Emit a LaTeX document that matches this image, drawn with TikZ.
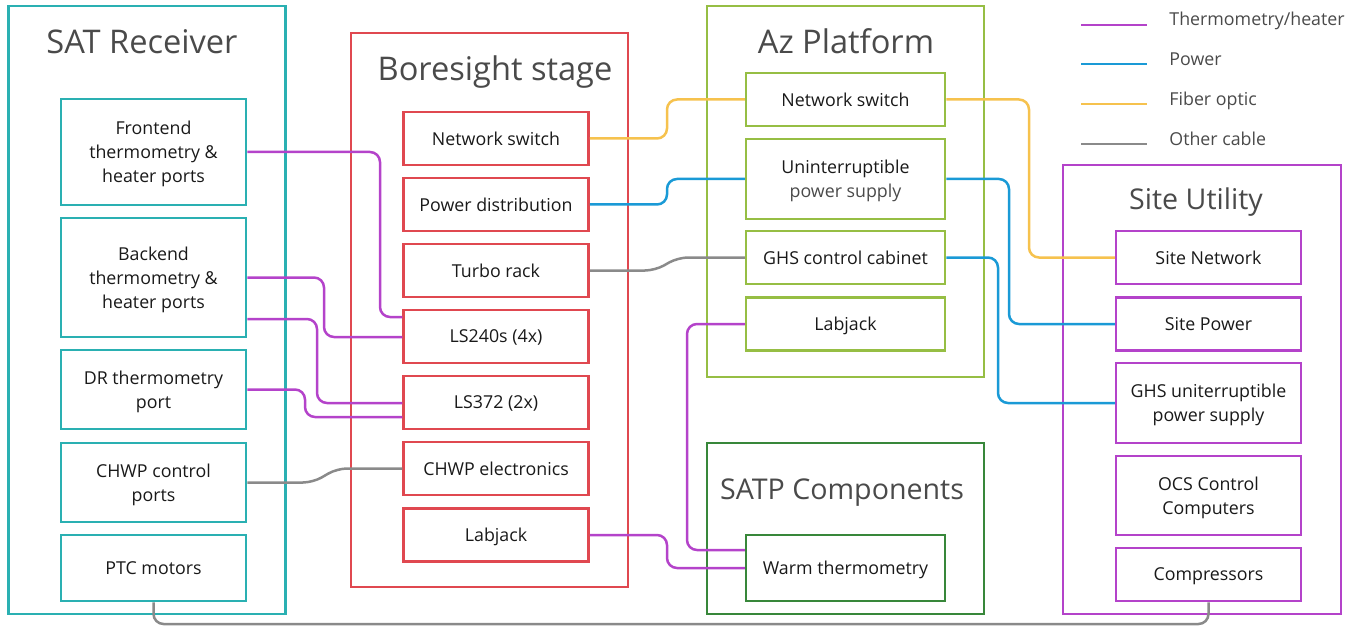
\documentclass[tikz,border=0pt]{standalone}
\usepackage{fontspec}
\setmainfont{Open Sans}
\definecolor{recv}{HTML}{2AB0B2}
\definecolor{bore}{HTML}{E04850}
\definecolor{azgreen}{HTML}{96BE44}
\definecolor{satpgreen}{HTML}{38873A}
\definecolor{siteviolet}{HTML}{B443CA}
\definecolor{ctherm}{HTML}{B443CA}
\definecolor{cpower}{HTML}{1A9AD6}
\definecolor{cfiber}{HTML}{F6C24E}
\definecolor{cother}{HTML}{8A8A8A}
\definecolor{titlegray}{HTML}{4A4A4A}
\begin{document}
\begin{tikzpicture}[x=0.5pt, y=-0.5pt,
  every node/.style={font=\fontsize{8.9}{12}\selectfont, text=black!90, align=center},
  grp/.style={draw, line width=1.25pt, minimum width=138.5pt},
  part/.style={draw, line width=1.25pt, minimum width=92.5pt, minimum height=26.5pt, inner sep=2pt, text depth=0pt},
  ttl/.style={font=\fontsize{16.3}{19}\selectfont, text=titlegray, anchor=base},
  subttl/.style={ttl, font=\fontsize{14.3}{17}\selectfont},
  cable/.style={line width=1.25pt, rounded corners=5pt},
  therm/.style={cable, draw=ctherm},
  power/.style={cable, draw=cpower},
  fiber/.style={cable, draw=cfiber},
  other/.style={cable, draw=cother},
  legtext/.style={anchor=base west, inner sep=0pt, text=titlegray}]
  \useasboundingbox (0,0) rectangle (1361,626);

  % SAT receiver
  \node[grp, draw=recv, minimum height=304pt] (sat) at (147,310) {};
  \node[ttl] (satT) at (142,54) {SAT Receiver};
  \node[part, draw=recv, minimum height=53pt] (fe) at (153.5,152) {Frontend\\thermometry \&\\heater ports};
  \node[part, draw=recv, minimum height=59.5pt] (be) at (153.5,277.5) {Backend\\thermometry \&\\heater ports};
  \node[part, draw=recv, minimum height=39.5pt] (dr) at (153.5,389.5) {DR thermometry\\port};
  \node[part, draw=recv, minimum height=39.5pt] (cctl) at (153.5,482.5) {CHWP control\\ports};
  \node[part, draw=recv, minimum height=33pt] (ptc) at (153.5,568) {PTC motors};

  % boresight stage
  \node[grp, draw=bore, minimum height=277pt] (bs) at (489.5,310) {};
  \node[ttl] (bsT) at (495,81) {Boresight stage};
  \node[part, draw=bore] (bnet) at (496,138.5) {Network switch};
  \node[part, draw=bore] (pdist) at (496,204.5) {Power distribution};
  \node[part, draw=bore] (turbo) at (496,270.5) {Turbo rack};
  \node[part, draw=bore] (ls240) at (496,336.5) {LS240s (4x)};
  \node[part, draw=bore] (ls372) at (496,402.5) {LS372 (2x)};
  \node[part, draw=bore] (chwpe) at (496,468.5) {CHWP electronics};
  \node[part, draw=bore] (blj) at (496,535) {Labjack};

  % az platform
  \node[grp, draw=azgreen, minimum height=185.5pt] (az) at (845.5,191.5) {};
  \node[ttl] (azT) at (846,54) {Az Platform};
  \node[part, draw=azgreen, minimum width=99.5pt] (anet) at (845.5,99.5) {Network switch};
  \node[part, draw=azgreen, minimum width=99.5pt, minimum height=40pt] (ups) at (845.5,179) {Uninterruptible\\\textcolor{titlegray}{power supply}};
  \node[part, draw=azgreen, minimum width=99.5pt] (ghs) at (845.5,257.5) {GHS control cabinet};
  \node[part, draw=azgreen, minimum width=99.5pt] (alj) at (845.5,324) {Labjack};

  % satp components
  \node[grp, draw=satpgreen, minimum height=85.5pt] (satp) at (845.5,528.5) {};
  \node[subttl] (satpT) at (842,499) {SATP Components};
  \node[part, draw=satpgreen, minimum width=99.5pt, minimum height=33pt] (warm) at (845.5,568) {Warm thermometry};

  % site utility
  \node[grp, draw=siteviolet, minimum width=139pt, minimum height=224.5pt] (site) at (1202,389.5) {};
  \node[subttl] (siteT) at (1196,209) {Site Utility};
  \node[part, draw=siteviolet] (snet) at (1208.5,257.5) {Site Network};
  \node[part, draw=siteviolet] (spow) at (1208.5,324) {Site Power};
  \node[part, draw=siteviolet, minimum height=40pt] (gups) at (1208.5,403) {GHS uniterruptible\\power supply};
  \node[part, draw=siteviolet, minimum height=39.5pt] (ocs) at (1208.5,495.5) {OCS Control\\Computers};
  \node[part, draw=siteviolet] (comp) at (1208.5,574.5) {Compressors};

  % legend
  \node[legtext] (lg1) at (1169,26) {Thermometry/heater};
  \node[legtext] (lg2) at (1169,66) {Power};
  \node[legtext] (lg3) at (1169,106) {Fiber optic};
  \node[legtext] (lg4) at (1169,146) {Other cable};
  \draw[therm] (1081,25) -- (1147,25);
  \draw[power] (1081,64) -- (1147,64);
  \draw[fiber] (1081,104) -- (1147,104);
  \draw[other] (1081,144) -- (1147,144);

  % cables
  \draw[therm] (fe.east) -| (380,317) -- (ls240.west |- 0,317);
  \draw[therm] (be.east) -| (324,337) -- (ls240.west |- 0,337);
  \draw[therm] (be.east |- 0,319) -| (317,403) -- (ls372.west |- 0,403);
  \draw[therm] (dr.east) -| (305,417) -- (ls372.west |- 0,417);
  \draw[other] (cctl.east) -- (313,482.5) -- (337,468.5) -- (chwpe.west);
  \draw[other] (ptc.south) |- (1208.5,624) -- (comp.south);
  \draw[fiber] (bnet.east) -| (667,99.5) -- (anet.west);
  \draw[power] (pdist.east) -| (667,179) -- (ups.west);
  \draw[other] (turbo.east) -- (655,270.5) -- (678,257.5) -- (ghs.west);
  \draw[therm] (blj.east) -| (667,568) -- (warm.west);
  \draw[therm] (alj.west) -| (687,550) -- (warm.west |- 0,550);
  \draw[fiber] (anet.east) -| (1029,257.5) -- (snet.west);
  \draw[power] (ups.east) -| (1009,324) -- (spow.west);
  \draw[power] (ghs.east) -| (998,403) -- (gups.west);
\end{tikzpicture}
\end{document}
